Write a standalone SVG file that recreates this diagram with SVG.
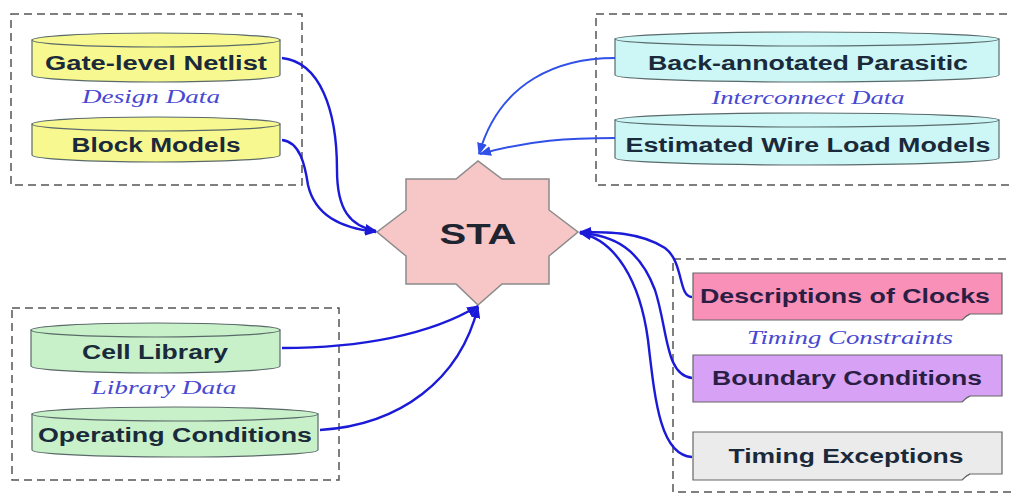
<svg xmlns="http://www.w3.org/2000/svg" width="1011" height="494" viewBox="0 0 1011 494">
<defs>
<marker id="arr" viewBox="0 0 12 10" refX="11" refY="5" markerWidth="12" markerHeight="10" markerUnits="userSpaceOnUse" orient="auto">
<path d="M0,0 L12,5 L0,10 Z" fill="#1a1ad8"/>
</marker>
<marker id="arr2" viewBox="0 0 12 10" refX="11" refY="5" markerWidth="12" markerHeight="10" markerUnits="userSpaceOnUse" orient="auto">
<path d="M0,0 L12,5 L0,10 Z" fill="#3050e8"/>
</marker>
</defs>
<style>
.grp{fill:none;stroke:#555;stroke-width:1.5;stroke-dasharray:8,5}
.lbl{font-family:"Liberation Sans",Arial,sans-serif;font-weight:bold;font-size:20px;fill:#1a2a3a;text-anchor:middle}
.cap{font-family:"Liberation Serif","Times New Roman",serif;font-style:italic;font-size:18px;fill:#4848d0;text-anchor:middle}
.cyl{stroke:#5a6a6a;stroke-width:1.2}
.yel{fill:#f8f890}
.cyan{fill:#cdf7f7}
.grn{fill:#c9f1c9}
.note{stroke:#666;stroke-width:1.2}
.edge{fill:none;stroke:#1a1ad8;stroke-width:2.4;marker-end:url(#arr)}
.edge2{fill:none;stroke:#3050e8;stroke-width:2;marker-end:url(#arr2)}
</style>
<rect width="1011" height="494" fill="#ffffff"/>
<!-- groups -->
<rect class="grp" x="11" y="14" width="291" height="171"/>
<rect class="grp" x="596" y="14" width="420" height="171"/>
<rect class="grp" x="12" y="308" width="327" height="172"/>
<rect class="grp" x="673" y="259" width="345" height="233"/>
<text class="cap" x="151" y="103" textLength="138" lengthAdjust="spacingAndGlyphs">Design Data</text>
<text class="cap" x="808" y="104" textLength="193" lengthAdjust="spacingAndGlyphs">Interconnect Data</text>
<text class="cap" x="164" y="394" textLength="145" lengthAdjust="spacingAndGlyphs">Library Data</text>
<text class="cap" x="850" y="344" textLength="206" lengthAdjust="spacingAndGlyphs">Timing Constraints</text>

<g id="gate-level-netlist">
<path class="cyl yel" d="M32,40 V75 A124,7 0 0 0 280,75 V40 Z"/>
<ellipse class="cyl yel" cx="156" cy="40" rx="124" ry="7"/>
<text class="lbl" x="156" y="70" textLength="222" lengthAdjust="spacingAndGlyphs">Gate-level Netlist</text>
</g>
<g id="block-models">
<path class="cyl yel" d="M32,124 V155 A124,7 0 0 0 280,155 V124 Z"/>
<ellipse class="cyl yel" cx="156" cy="124" rx="124" ry="7"/>
<text class="lbl" x="156" y="152" textLength="169" lengthAdjust="spacingAndGlyphs">Block Models</text>
</g>
<g id="back-annotated-parasitic">
<path class="cyl cyan" d="M615,39 V75 A192,7 0 0 0 999,75 V39 Z"/>
<ellipse class="cyl cyan" cx="807" cy="39" rx="192" ry="7"/>
<text class="lbl" x="808" y="70" textLength="320" lengthAdjust="spacingAndGlyphs">Back-annotated Parasitic</text>
</g>
<g id="estimated-wire-load-models">
<path class="cyl cyan" d="M615,120 V158 A192,7 0 0 0 999,158 V120 Z"/>
<ellipse class="cyl cyan" cx="807" cy="120" rx="192" ry="7"/>
<text class="lbl" x="808" y="152" textLength="365" lengthAdjust="spacingAndGlyphs">Estimated Wire Load Models</text>
</g>
<g id="cell-library">
<path class="cyl grn" d="M31,330 V366 A124.5,7 0 0 0 280,366 V330 Z"/>
<ellipse class="cyl grn" cx="155.5" cy="330" rx="124.5" ry="7"/>
<text class="lbl" x="155" y="359" textLength="146" lengthAdjust="spacingAndGlyphs">Cell Library</text>
</g>
<g id="operating-conditions">
<path class="cyl grn" d="M32,414 V450 A143,7 0 0 0 318,450 V414 Z"/>
<ellipse class="cyl grn" cx="175" cy="414" rx="143" ry="7"/>
<text class="lbl" x="175" y="442" textLength="274" lengthAdjust="spacingAndGlyphs">Operating Conditions</text>
</g>

<g id="sta">
<path d="M406,179 H456 L478,161 L502,179 H549 V210 L578,232 L549,256 V284 H502 L478,305 L456,284 H406 V256 L377,232 L406,210 Z" fill="#f7c6c6" stroke="#8a8a8a" stroke-width="1.5"/>
<text x="478" y="244" font-family="'Liberation Sans',Arial,sans-serif" font-weight="bold" font-size="30" fill="#1e2430" text-anchor="middle" textLength="77" lengthAdjust="spacingAndGlyphs">STA</text>
</g>

<g id="descriptions-of-clocks">
<path class="note" d="M693,273 H1002 V314 H970 Q966,316 962,320 H693 Z" fill="#f890b8"/>
<path d="M962,320 Q966,315 970,314" fill="none" stroke="#666" stroke-width="1"/>
<text class="lbl" x="845" y="303" textLength="290" lengthAdjust="spacingAndGlyphs" style="fill:#2a1e45">Descriptions of Clocks</text>
</g>
<g id="boundary-conditions">
<path class="note" d="M693,355 H1002 V396 H970 Q966,398 962,402 H693 Z" fill="#d7a2f5"/>
<path d="M962,402 Q966,397 970,396" fill="none" stroke="#666" stroke-width="1"/>
<text class="lbl" x="847" y="385" textLength="270" lengthAdjust="spacingAndGlyphs" style="fill:#2a1e45">Boundary Conditions</text>
</g>
<g id="timing-exceptions">
<path class="note" d="M693,432 H1002 V474 H970 Q966,476 962,480 H693 Z" fill="#ebebeb"/>
<path d="M962,480 Q966,475 970,474" fill="none" stroke="#666" stroke-width="1"/>
<text class="lbl" x="846" y="463" textLength="235" lengthAdjust="spacingAndGlyphs">Timing Exceptions</text>
</g>

<g id="connectors">
<path class="edge" d="M282,58 C320,62 337,110 337,170 C337,210 350,226 376,231"/>
<path class="edge" d="M282,140 C300,142 305,165 308,185 C315,215 340,228 376,232"/>
<path class="edge2" d="M615,58 C560,58 500,80 479,154"/>
<path class="edge2" d="M615,138 C570,138 530,140 480,154"/>
<path class="edge" d="M692,297 C678,297 684,262 665,248 C640,232 610,232 580,232"/>
<path class="edge" d="M692,378 C665,375 668,330 655,290 C640,250 615,235 580,233"/>
<path class="edge" d="M692,457 C660,455 655,400 648,340 C640,280 615,240 580,233"/>
<path class="edge" d="M282,348 C360,348 430,335 478,306"/>
<path class="edge" d="M320,430 C400,425 460,380 478,307"/>
</g>
</svg>
